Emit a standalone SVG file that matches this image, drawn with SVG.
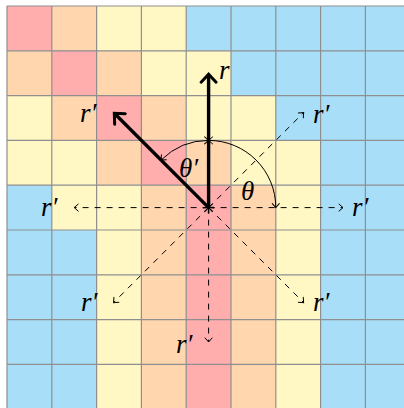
<svg xmlns="http://www.w3.org/2000/svg" width="404" height="408" viewBox="0 0 404 408">
<style>
.P{fill:#FFADAD}.O{fill:#FFD6AE}.Y{fill:#FFF7C4}.B{fill:#A9DEF9}
.grid{fill:none;stroke:#8f8f8f;stroke-width:1.2}
.thick{fill:none;stroke:#000;stroke-width:3.4}
.dash{fill:none;stroke:#000;stroke-width:1;stroke-dasharray:6 6}
.arc{fill:none;stroke:#000;stroke-width:1}
.lbl{font-family:"Liberation Serif","DejaVu Serif",serif;font-style:italic;font-size:27px;fill:#000}
</style>
<defs>
<marker id="big" markerUnits="userSpaceOnUse" markerWidth="24" markerHeight="24" refX="12" refY="12" orient="auto" viewBox="0 0 24 24" overflow="visible">
<path d="M4,4.5 L12,12 L4,19.5" fill="none" stroke="#000" stroke-width="3" stroke-linecap="round" stroke-linejoin="miter"/>
</marker>
<marker id="sm" markerUnits="userSpaceOnUse" markerWidth="12" markerHeight="12" refX="6" refY="6" orient="auto-start-reverse" viewBox="0 0 12 12" overflow="visible">
<path d="M2,2.5 L6,6 L2,9.5" fill="none" stroke="#000" stroke-width="1" stroke-linecap="round"/>
</marker>
</defs>
<rect width="404" height="408" fill="#fff"/>
<g id="grid">
<rect class="B" x="7" y="6" width="404" height="404"/>
<rect class="P" x="7" y="6" width="44.8" height="44.8"/>
<rect class="O" x="51.8" y="6" width="44.8" height="44.8"/>
<rect class="Y" x="96.6" y="6" width="89.6" height="44.8"/>
<rect class="O" x="7" y="50.8" width="44.8" height="44.8"/>
<rect class="P" x="51.8" y="50.8" width="44.8" height="44.8"/>
<rect class="O" x="96.6" y="50.8" width="44.8" height="44.8"/>
<rect class="Y" x="141.4" y="50.8" width="89.6" height="44.8"/>
<rect class="Y" x="7" y="95.6" width="44.8" height="44.8"/>
<rect class="O" x="51.8" y="95.6" width="44.8" height="44.8"/>
<rect class="P" x="96.6" y="95.6" width="44.8" height="44.8"/>
<rect class="O" x="141.4" y="95.6" width="44.8" height="44.8"/>
<rect class="Y" x="186.2" y="95.6" width="89.6" height="44.8"/>
<rect class="Y" x="7" y="140.4" width="89.6" height="44.8"/>
<rect class="O" x="96.6" y="140.4" width="44.8" height="44.8"/>
<rect class="P" x="141.4" y="140.4" width="44.8" height="44.8"/>
<rect class="O" x="186.2" y="140.4" width="44.8" height="44.8"/>
<rect class="Y" x="231" y="140.4" width="89.6" height="44.8"/>
<rect class="Y" x="51.8" y="185.2" width="44.8" height="44.8"/>
<rect class="Y" x="96.6" y="185.2" width="44.8" height="225"/>
<rect class="O" x="141.4" y="185.2" width="44.8" height="225"/>
<rect class="P" x="186.2" y="185.2" width="44.8" height="225"/>
<rect class="O" x="231" y="185.2" width="44.8" height="225"/>
<rect class="Y" x="275.8" y="185.2" width="44.8" height="225"/>
<path class="grid" d="M7,6V410M51.8,6V410M96.6,6V410M141.4,6V410M186.2,6V410M231,6V410M275.8,6V410M320.6,6V410M365.4,6V410M7,6H410M7,50.8H410M7,95.6H410M7,140.4H410M7,185.2H410M7,230H410M7,274.8H410M7,319.6H410M7,364.4H410"/>
</g>
<g id="connectors">
<path id="arc-theta" class="arc" d="M275.8,207.6 A67.2,67.2 0 0 0 208.6,140.4" marker-start="url(#sm)" marker-end="url(#sm)"/>
<path id="arc-thetap" class="arc" d="M208.6,140.4 A67.2,67.2 0 0 0 161.08,160.08" marker-start="url(#sm)" marker-end="url(#sm)"/>
<line class="dash" x1="208.6" y1="207.6" x2="303.63" y2="112.57" marker-start="url(#sm)" marker-end="url(#sm)"/>
<line class="dash" x1="208.6" y1="207.6" x2="343" y2="207.6" marker-start="url(#sm)" marker-end="url(#sm)"/>
<line class="dash" x1="208.6" y1="207.6" x2="303.63" y2="302.63" marker-start="url(#sm)" marker-end="url(#sm)"/>
<line class="dash" x1="208.6" y1="207.6" x2="208.6" y2="342" marker-start="url(#sm)" marker-end="url(#sm)"/>
<line class="dash" x1="208.6" y1="207.6" x2="113.57" y2="302.63" marker-start="url(#sm)" marker-end="url(#sm)"/>
<line class="dash" x1="208.6" y1="207.6" x2="74.2" y2="207.6" marker-start="url(#sm)" marker-end="url(#sm)"/>
<line class="thick" x1="208.6" y1="207.6" x2="208.6" y2="74.2" marker-end="url(#big)"/>
<line class="thick" x1="208.6" y1="207.6" x2="114.3" y2="113.3" marker-end="url(#big)"/>
</g>
<g id="labels">
<text class="lbl" x="219" y="79">r</text>
<text class="lbl" x="80" y="122">r′</text>
<text class="lbl" x="313" y="123">r′</text>
<text class="lbl" x="352" y="216">r′</text>
<text class="lbl" x="41" y="216">r′</text>
<text class="lbl" x="313" y="311">r′</text>
<text class="lbl" x="81" y="311">r′</text>
<text class="lbl" x="176" y="353">r′</text>
<text class="lbl" x="241" y="200">θ</text>
<text class="lbl" x="179" y="177">θ′</text>
</g>
</svg>
